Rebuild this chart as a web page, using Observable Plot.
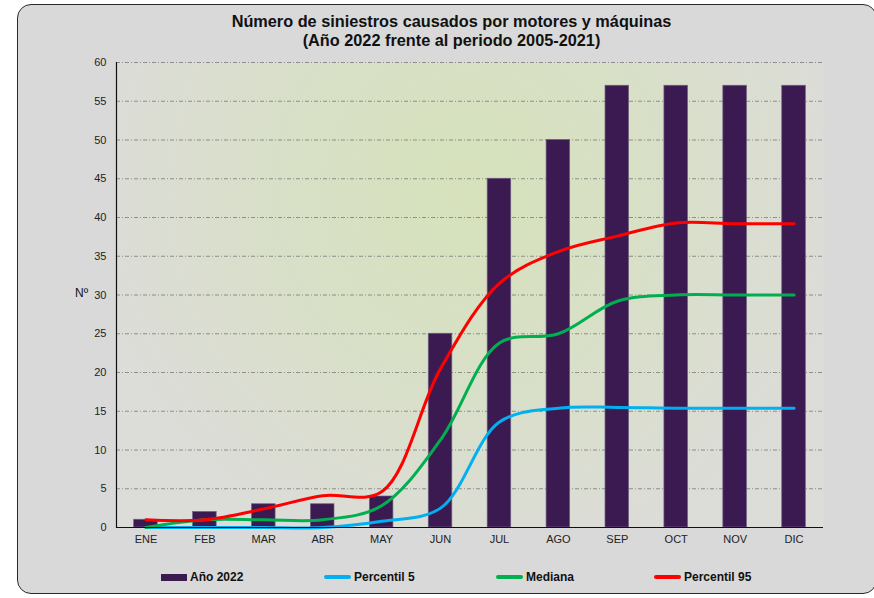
<!DOCTYPE html>
<html>
<head>
<meta charset="utf-8">
<script src="https://cdn.jsdelivr.net/npm/d3@7"></script>
<script src="https://cdn.jsdelivr.net/npm/@observablehq/plot@0.6"></script>
<style>
  html, body { margin: 0; padding: 0; background: #ffffff; }
  body { width: 874px; height: 598px; position: relative; overflow: hidden; font-family: "Liberation Sans", Arial, sans-serif; }
  #frame { position: absolute; left: 17px; top: 4px; width: 860px; height: 590px; border: 1.5px solid #2a2a2a; border-radius: 14px; background: #d9d9d9; box-sizing: border-box; }
  #title { position: absolute; left: 0; width: 874px; top: 12px; text-align: center; font-weight: bold; font-size: 16.3px; line-height: 18.5px; color: #111; padding-left: 29px; box-sizing: border-box; }
  #chart { position: absolute; left: 0; top: 0; }
  #ylab { position: absolute; left: 75px; top: 286px; font-size: 12px; color: #111; }
  .leg { position: absolute; top: 569px; height: 16px; font-size: 12px; font-weight: bold; color: #111; display: flex; align-items: center; }
  .sw { display: inline-block; margin-right: 3px; }
</style>
</head>
<body>
<div id="frame"></div>
<div id="title">Número de siniestros causados por motores y máquinas<br>(Año 2022 frente al periodo 2005-2021)</div>
<div id="chart"></div>
<div id="ylab">Nº</div>
<div class="leg" style="left:161px"><span class="sw" style="width:26px;height:7px;background:#3b1a52"></span>Año 2022</div>
<div class="leg" style="left:324px"><span class="sw" style="width:27px;height:3.5px;background:#00b0f0;border-radius:2px"></span>Percentil 5</div>
<div class="leg" style="left:496px"><span class="sw" style="width:27px;height:3.5px;background:#00b050;border-radius:2px"></span>Mediana</div>
<div class="leg" style="left:654px"><span class="sw" style="width:27px;height:3.5px;background:#ff0000;border-radius:2px"></span>Percentil 95</div>
<script>
const months = ["ENE","FEB","MAR","ABR","MAY","JUN","JUL","AGO","SEP","OCT","NOV","DIC"];
const year2022 = [1, 2, 3, 3, 4, 25, 45, 50, 57, 57, 57, 57];
const percentil5 = [0, 0, 0, 0, 0.8, 2.5, 13.6, 15.4, 15.5, 15.4, 15.4, 15.4];
const mediana = [0, 1, 1, 1, 2.8, 11.3, 23.8, 25, 29.2, 30, 30, 30];
const percentil95 = [1, 1, 2.4, 4.1, 4.6, 20.5, 31.5, 35.6, 37.6, 39.3, 39.2, 39.2];
const yTicks = d3.range(0, 61, 5);

const bars = months.map((m, i) => ({month: m, value: year2022[i]}));
const series = [
  {name: "Percentil 5", values: percentil5, color: "#00b0f0"},
  {name: "Mediana", values: mediana, color: "#00b050"},
  {name: "Percentil 95", values: percentil95, color: "#ff0000"}
];
const lines = series.flatMap(s => months.map((m, i) => ({month: m, value: s.values[i], name: s.name})));

const chart = Plot.plot({
  width: 874,
  height: 598,
  marginLeft: 116,
  marginRight: 51,
  marginTop: 62,
  marginBottom: 71,
  style: {background: "transparent", fontFamily: "Liberation Sans, Arial, sans-serif", fontSize: "11px", color: "#222"},
  x: {type: "band", domain: months, paddingInner: 0.6, paddingOuter: 0.3, round: false, label: null, tickSize: 0, tickPadding: 8},
  y: {domain: [0, 60], ticks: yTicks, label: null, tickSize: 0, tickPadding: 10},
  color: {domain: series.map(s => s.name), range: series.map(s => s.color)},
  marks: [
    Plot.frame({fill: "url(#bggrad)", stroke: "none"}),
    Plot.gridY(yTicks.filter(t => t > 0), {stroke: "#7a7a7a", strokeOpacity: 1, strokeWidth: 0.8, strokeDasharray: "4,2,1,2"}),
    Plot.barY(bars, {x: "month", y: "value", fill: "#3b1a52", stroke: "#6f6080", strokeWidth: 0.7}),
    Plot.line(lines, {x: "month", y: "value", z: "name", stroke: "name", strokeWidth: 3, curve: "catmull-rom"}),
    Plot.frame({anchor: "left", stroke: "#111", strokeWidth: 1.2}),
    Plot.ruleY([0], {stroke: "#111", strokeWidth: 1.2}),
    Plot.axisY({ticks: yTicks, tickSize: 0, tickPadding: 10, label: null}),
    Plot.axisX({tickSize: 0, tickPadding: 8, label: null})
  ]
});
chart.insertAdjacentHTML("afterbegin", `<defs>
  <radialGradient id="bggrad" gradientUnits="userSpaceOnUse" cx="470" cy="190" r="380">
    <stop offset="0" stop-color="#d6e2bb"/>
    <stop offset="0.45" stop-color="#d8e0c6"/>
    <stop offset="1" stop-color="#dcdcd8"/>
  </radialGradient></defs>`);
document.getElementById("chart").appendChild(chart);
</script>
</body>
</html>
